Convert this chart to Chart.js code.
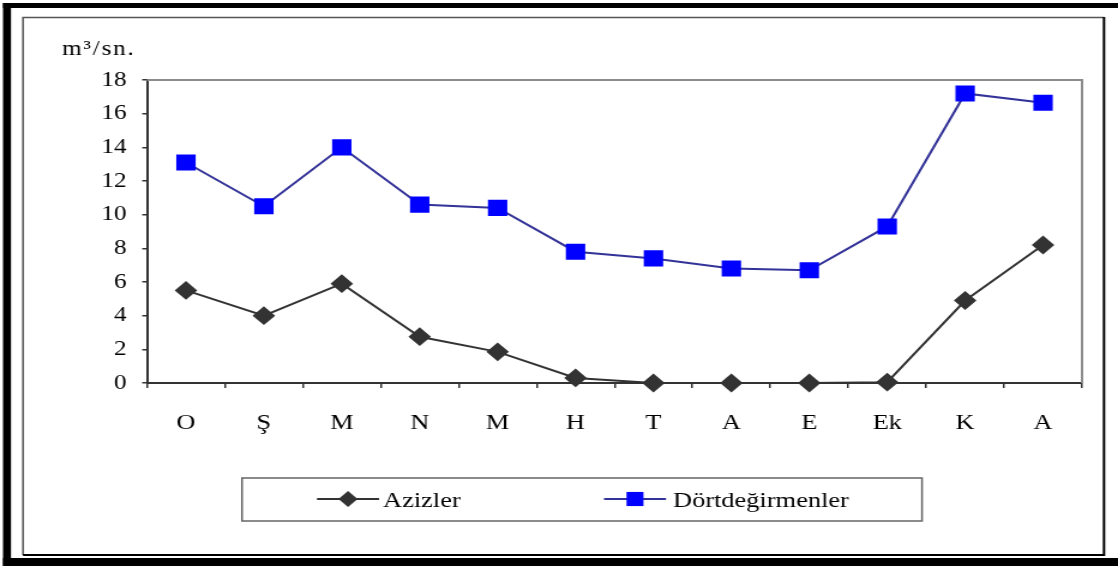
<!DOCTYPE html>
<html>
<head>
<meta charset="utf-8">
<script src="https://cdn.jsdelivr.net/npm/chart.js@4/dist/chart.umd.min.js"></script>
<style>
html,body{margin:0;padding:0;background:#fff;overflow:hidden}
#wrap{width:1118px;height:566px;overflow:hidden}
#c{display:block;transform:scaleX(1.19957);transform-origin:0 0}
</style>
</head>
<body>
<div id="wrap"><canvas id="c" width="932" height="566"></canvas></div>
<script>
// aylar (Ekim -> Ağustos)
const aylar = ['O', 'Ş', 'M', 'N', 'M', 'H', 'T', 'A', 'E', 'Ek', 'K', 'A']
const azizler = [5.5, 4.0, 5.9, 2.75, 1.85, 0.3, 0, 0, 0, 0.05, 4.9, 8.2]
const dortdegirmenler = [13.1, 10.5, 14.0, 10.6, 10.4, 7.8, 7.4, 6.8, 6.7, 9.3, 17.2, 16.65]
const seriAdlari = ['Azizler', 'Dörtdeğirmenler']
const birim = 'm³/sn.'
const yMin = 0, yMax = 18, yAdim = 2

// the picture is stretched sideways, so the canvas is drawn narrow and scaled by css
const SX = 1118 / 932
const px = x => x / SX
const yazi = 'Liberation Serif'

const cerceve = {
    id: 'cerceve',
    beforeDraw(chart) {
        const ctx = chart.ctx
        ctx.save()
        ctx.fillStyle = '#fff'
        ctx.fillRect(0, 0, chart.width, chart.height)
        // thick black frame
        ctx.fillStyle = '#000'
        ctx.fillRect(px(3), 3, chart.width, 5)
        ctx.fillRect(px(3), 3, px(8), 563)
        ctx.fillRect(px(3), 558, chart.width, 8)
        // inner frame
        ctx.lineWidth = 1.5
        ctx.strokeStyle = '#555'
        ctx.beginPath()
        ctx.moveTo(px(23), 555); ctx.lineTo(px(23), 17.5); ctx.lineTo(px(1104), 17.5)
        ctx.stroke()
        ctx.strokeStyle = '#000'
        ctx.lineWidth = 2
        ctx.beginPath()
        ctx.moveTo(px(1104), 17); ctx.lineTo(px(1104), 555); ctx.lineTo(px(23), 555)
        ctx.stroke()
        // legend box
        ctx.strokeStyle = '#666'
        ctx.lineWidth = 1.5
        ctx.strokeRect(px(242), 478, px(922) - px(242), 43)
        ctx.restore()
    },
    beforeDatasetsDraw(chart) {
        const { ctx, chartArea: a } = chart
        ctx.save()
        ctx.strokeStyle = '#8c8c8c'
        ctx.lineWidth = 2
        ctx.beginPath()
        ctx.moveTo(a.left, a.top); ctx.lineTo(a.right, a.top); ctx.lineTo(a.right, a.bottom)
        ctx.stroke()
        ctx.restore()
    },
    afterDraw(chart) {
        const ctx = chart.ctx
        ctx.save()
        ctx.fillStyle = '#000'
        ctx.font = '21px "' + yazi + '"'
        ctx.textBaseline = 'alphabetic'
        ctx.letterSpacing = '1.5px'
        ctx.fillText(birim, px(62), 55)
        ctx.letterSpacing = '0px'
        // legend: line + marker + name
        const yer = [[317, 379, 383], [604, 666, 673]]
        chart.data.datasets.forEach((ds, i) => {
            const [x1, x2, xt] = yer[i]
            const y = 499
            ctx.strokeStyle = ds.borderColor
            ctx.lineWidth = ds.borderWidth
            ctx.beginPath()
            ctx.moveTo(px(x1), y); ctx.lineTo(px(x2), y)
            ctx.stroke()
            const cx = px((x1 + x2) / 2)
            ctx.fillStyle = ds.pointBackgroundColor
            ctx.beginPath()
            if (ds.pointStyle === 'rect') {
                const h = ds.pointRadius * Math.SQRT1_2
                ctx.rect(cx - h, y - h, 2 * h, 2 * h)
            } else {
                const r = ds.pointRadius
                ctx.moveTo(cx - r, y); ctx.lineTo(cx, y - r); ctx.lineTo(cx + r, y); ctx.lineTo(cx, y + r)
                ctx.closePath()
            }
            ctx.fill()
            ctx.fillStyle = '#000'
            ctx.font = '22px "' + yazi + '"'
            ctx.fillText(ds.label, px(xt), 507)
        })
        ctx.restore()
    }
}

new Chart(document.getElementById('c'), {
    type: 'line',
    data: {
        labels: aylar,
        datasets: [{
            label: seriAdlari[0],
            data: azizler,
            borderColor: '#333333',
            backgroundColor: '#333333',
            pointBackgroundColor: '#333333',
            pointBorderColor: '#333333',
            pointStyle: 'rectRot',
            pointRadius: 8,
            pointHoverRadius: 8,
            borderWidth: 2,
            tension: 0,
            clip: false
        }, {
            label: seriAdlari[1],
            data: dortdegirmenler,
            borderColor: '#333399',
            backgroundColor: '#0000ff',
            pointBackgroundColor: '#0000ff',
            pointBorderColor: '#0000ff',
            pointStyle: 'rect',
            pointRadius: 10,
            pointHoverRadius: 10,
            borderWidth: 2,
            tension: 0,
            clip: false
        }]
    },
    options: {
        responsive: false,
        animation: false,
        devicePixelRatio: 1,
        layout: { padding: { top: 80, left: 0, right: 932 - px(1082), bottom: 0 } },
        plugins: { legend: { display: false }, tooltip: { enabled: false } },
        scales: {
            x: {
                offset: true,
                afterFit(s) { s.height = 566 - 383 },
                grid: { offset: true, drawOnChartArea: false, drawTicks: true, tickLength: 5, color: '#333', lineWidth: 1.5 },
                border: { color: '#333', width: 2 },
                ticks: { color: '#000', font: { family: yazi, size: 22 }, padding: 22, autoSkip: false, maxRotation: 0 }
            },
            y: {
                min: yMin,
                max: yMax,
                afterFit(s) { s.width = px(147) },
                grid: { drawOnChartArea: false, drawTicks: true, tickLength: 4, color: '#333', lineWidth: 1.5 },
                border: { color: '#333', width: 2 },
                ticks: { stepSize: yAdim, color: '#000', font: { family: yazi, size: 21 }, padding: 13 }
            }
        }
    },
    plugins: [cerceve]
})
</script>
</body>
</html>
